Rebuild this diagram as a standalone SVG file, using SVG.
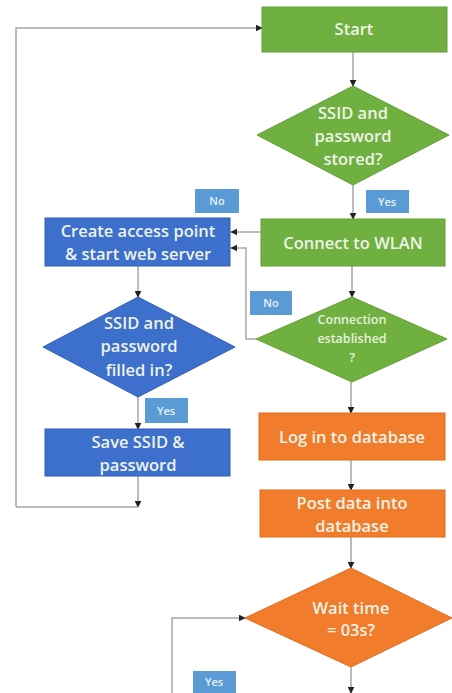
<svg xmlns="http://www.w3.org/2000/svg" width="452" height="693" viewBox="0 0 452 693">
  <defs>
    <marker id="arrow" viewBox="0 0 10 10" refX="9" refY="5" markerWidth="7" markerHeight="7" orient="auto" markerUnits="userSpaceOnUse">
      <path d="M0,0 L10,5 L0,10 z" fill="#222"/>
    </marker>
    <style>
      .green { fill: #70b040; stroke: #62a035; stroke-width: 1; }
      .blue { fill: #3d6fcc; stroke: #335fb5; stroke-width: 1; }
      .orange { fill: #f07c2c; stroke: #e06d20; stroke-width: 1; }
      .tag { fill: #5b9bd5; }
      .t { font-family: "Open Sans", "Liberation Sans", sans-serif; font-size: 16.5px; font-weight: 600; fill: #eef3e6; text-anchor: middle; }
      .ts { font-family: "Open Sans", "Liberation Sans", sans-serif; font-size: 12.5px; font-weight: 600; fill: #e8f1de; text-anchor: middle; }
      .tl { font-family: "Open Sans", "Liberation Sans", sans-serif; font-size: 11px; font-weight: 600; fill: #e6f0fa; text-anchor: middle; }
      .line { fill: none; stroke: #a6a6a6; stroke-width: 1.5; }
      .arr { marker-end: url(#arrow); }
    </style>
  </defs>
  <rect width="452" height="693" fill="#ffffff"/>

  <!-- connectors -->
  <g id="connectors">
    <path class="line arr" d="M16,507 L16,28 L262,28"/>
    <path class="line arr" d="M353,52 L353,86"/>
    <path class="line arr" d="M353,185 L353,219"/>
    <path class="line arr" d="M261,232 L231,232"/>
    <path class="line arr" d="M256,339 L246,339 L246,248 L231,248"/>
    <path class="line arr" d="M352,266 L352,297"/>
    <path class="line arr" d="M138,266 L138,297"/>
    <path class="line arr" d="M138,397 L138,429"/>
    <path class="line arr" d="M138,476 L138,507"/>
    <path class="line" d="M16,507 L138,507"/>
    <path class="line arr" d="M351,382 L351,413"/>
    <path class="line arr" d="M351,460 L351,490"/>
    <path class="line arr" d="M351,537 L351,568"/>
    <path class="line arr" d="M351,667 L351,693"/>
    <path class="line arr" d="M172,693 L172,618 L245,618"/>
  </g>

  <!-- flow nodes -->
  <g id="start">
    <rect class="green" x="262" y="7" width="185" height="45"/>
    <text class="t" x="354" y="35">Start</text>
  </g>
  <g id="stored">
    <polygon class="green" points="353,86 449,135 353,185 257,135"/>
    <text class="t" x="353" y="119">SSID and</text>
    <text class="t" x="353" y="142">password</text>
    <text class="t" x="353" y="165">stored?</text>
  </g>
  <g id="connect">
    <rect class="green" x="261" y="219" width="184" height="47"/>
    <text class="t" x="353" y="249">Connect to WLAN</text>
  </g>
  <g id="established">
    <polygon class="green" points="352,297 447,339 352,382 256,339"/>
    <text class="ts" x="352" y="324">Connection</text>
    <text class="ts" x="352" y="343">established</text>
    <text class="ts" x="352" y="362">?</text>
  </g>
  <g id="access-point">
    <rect class="blue" x="45" y="218" width="185" height="48"/>
    <text class="t" x="138" y="237">Create access point</text>
    <text class="t" x="138" y="260">&amp; start web server</text>
  </g>
  <g id="filled-in">
    <polygon class="blue" points="138,297 235,347 138,397 43,347"/>
    <text class="t" x="139" y="329">SSID and</text>
    <text class="t" x="139" y="352">password</text>
    <text class="t" x="139" y="376">filled in?</text>
  </g>
  <g id="save">
    <rect class="blue" x="45" y="429" width="185" height="47"/>
    <text class="t" x="138" y="448">Save SSID &amp;</text>
    <text class="t" x="138" y="471">password</text>
  </g>
  <g id="login">
    <rect class="orange" x="259" y="413" width="186" height="47"/>
    <text class="t" x="352" y="443">Log in to database</text>
  </g>
  <g id="post">
    <rect class="orange" x="260" y="490" width="185" height="47"/>
    <text class="t" x="352" y="509">Post data into</text>
    <text class="t" x="352" y="532">database</text>
  </g>
  <g id="wait">
    <polygon class="orange" points="351,568 452,618 351,667 245,618"/>
    <text class="t" x="351" y="614">Wait time</text>
    <text class="t" x="351" y="636">= 03s?</text>
  </g>

  <!-- branch labels -->
  <g id="label-yes-1">
    <rect class="tag" x="366" y="190" width="43" height="23"/>
    <text class="tl" x="387" y="206">Yes</text>
  </g>
  <g id="label-no-1">
    <rect class="tag" x="195" y="189" width="44" height="24"/>
    <text class="tl" x="217" y="205">No</text>
  </g>
  <g id="label-no-2">
    <rect class="tag" x="250" y="291" width="42" height="24"/>
    <text class="tl" x="271" y="307">No</text>
  </g>
  <g id="label-yes-2">
    <rect class="tag" x="145" y="398" width="43" height="25"/>
    <text class="tl" x="166" y="415">Yes</text>
  </g>
  <g id="label-yes-3">
    <rect class="tag" x="193" y="671" width="43" height="22"/>
    <text class="tl" x="214" y="686">Yes</text>
  </g>
</svg>
